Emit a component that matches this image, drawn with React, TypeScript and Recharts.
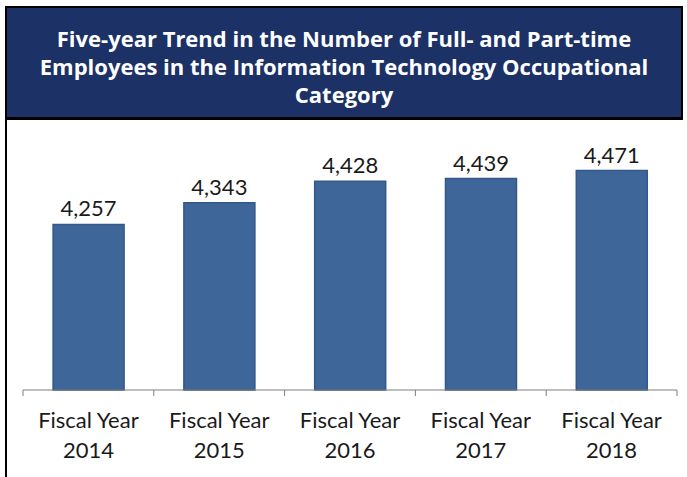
import React from 'react';
import { BarChart, Bar, XAxis, YAxis, LabelList } from 'recharts';

const years = ['2014', '2015', '2016', '2017', '2018'];
const employees = [4257, 4343, 4428, 4439, 4471];

const titleLines = [
  'Five-year Trend in the Number of Full- and Part-time',
  'Employees in the Information Technology Occupational',
  'Category',
];

const data = years.map((y, i) => ({ year: y, count: employees[i] }));

const FONT = 'Lato, "Open Sans", sans-serif';

function YearTick(props: any) {
  const { x, y, payload, index, visibleTicksCount } = props;
  const half = payload && payload.offset ? payload.offset : 65;
  const last = index === (visibleTicksCount ?? years.length) - 1;
  return (
    <g>
      <line x1={x - half} x2={x - half} y1={y} y2={y + 6} stroke="#7f7f7f" />
      {last && <line x1={x + half} x2={x + half} y1={y} y2={y + 6} stroke="#7f7f7f" />}
      <text x={x} y={y + 38} textAnchor="middle" fontFamily={FONT} fontSize={22} fill="#1a1a1a">
        Fiscal Year
      </text>
      <text x={x} y={y + 68} textAnchor="middle" fontFamily={FONT} fontSize={22} fill="#1a1a1a">
        {payload.value}
      </text>
    </g>
  );
}

export default function App() {
  return (
    <div style={{ position: 'absolute', left: 0, top: 0, width: 687, height: 477, background: '#fff' }}>
      {/* frame */}
      <div style={{ position: 'absolute', left: 5, top: 6, width: 2, height: 471, background: '#000' }} />
      <div
        style={{
          position: 'absolute',
          left: 5,
          top: 6,
          width: 678,
          height: 114,
          boxSizing: 'border-box',
          borderTop: '2px solid #000',
          borderLeft: '2px solid #000',
          borderRight: '2px solid #000',
          borderBottom: '3px solid #000',
          background: '#1c3166',
          color: '#fff',
          fontFamily: '"Open Sans", sans-serif',
          fontWeight: 700,
          fontSize: 22,
          lineHeight: '28px',
          textAlign: 'center',
          paddingTop: 16,
        }}
      >
        {titleLines.map((t) => (
          <div key={t}>{t}</div>
        ))}
      </div>
      <div style={{ position: 'absolute', left: 7, top: 120 }}>
        <BarChart
          width={675}
          height={357}
          data={data}
          margin={{ top: 18, right: 5, bottom: 7, left: 16 }}
          barCategoryGap="23%"
        >
          <XAxis
            dataKey="year"
            axisLine={{ stroke: '#7f7f7f' }}
            tickLine={false}
            tickSize={0}
            tickMargin={0}
            height={80}
            interval={0}
            tick={<YearTick />}
          />
          <YAxis hide domain={[3600, 4600]} />
          <Bar dataKey="count" fill="#3e6699" stroke="#335889" strokeWidth={1.5} isAnimationActive={false}>
            <LabelList
              dataKey="count"
              position="top"
              offset={8}
              formatter={(v: any) => Number(v).toLocaleString('en-US')}
              style={{ fontFamily: FONT, fontSize: 22, fill: '#1a1a1a' }}
            />
          </Bar>
        </BarChart>
      </div>
    </div>
  );
}
